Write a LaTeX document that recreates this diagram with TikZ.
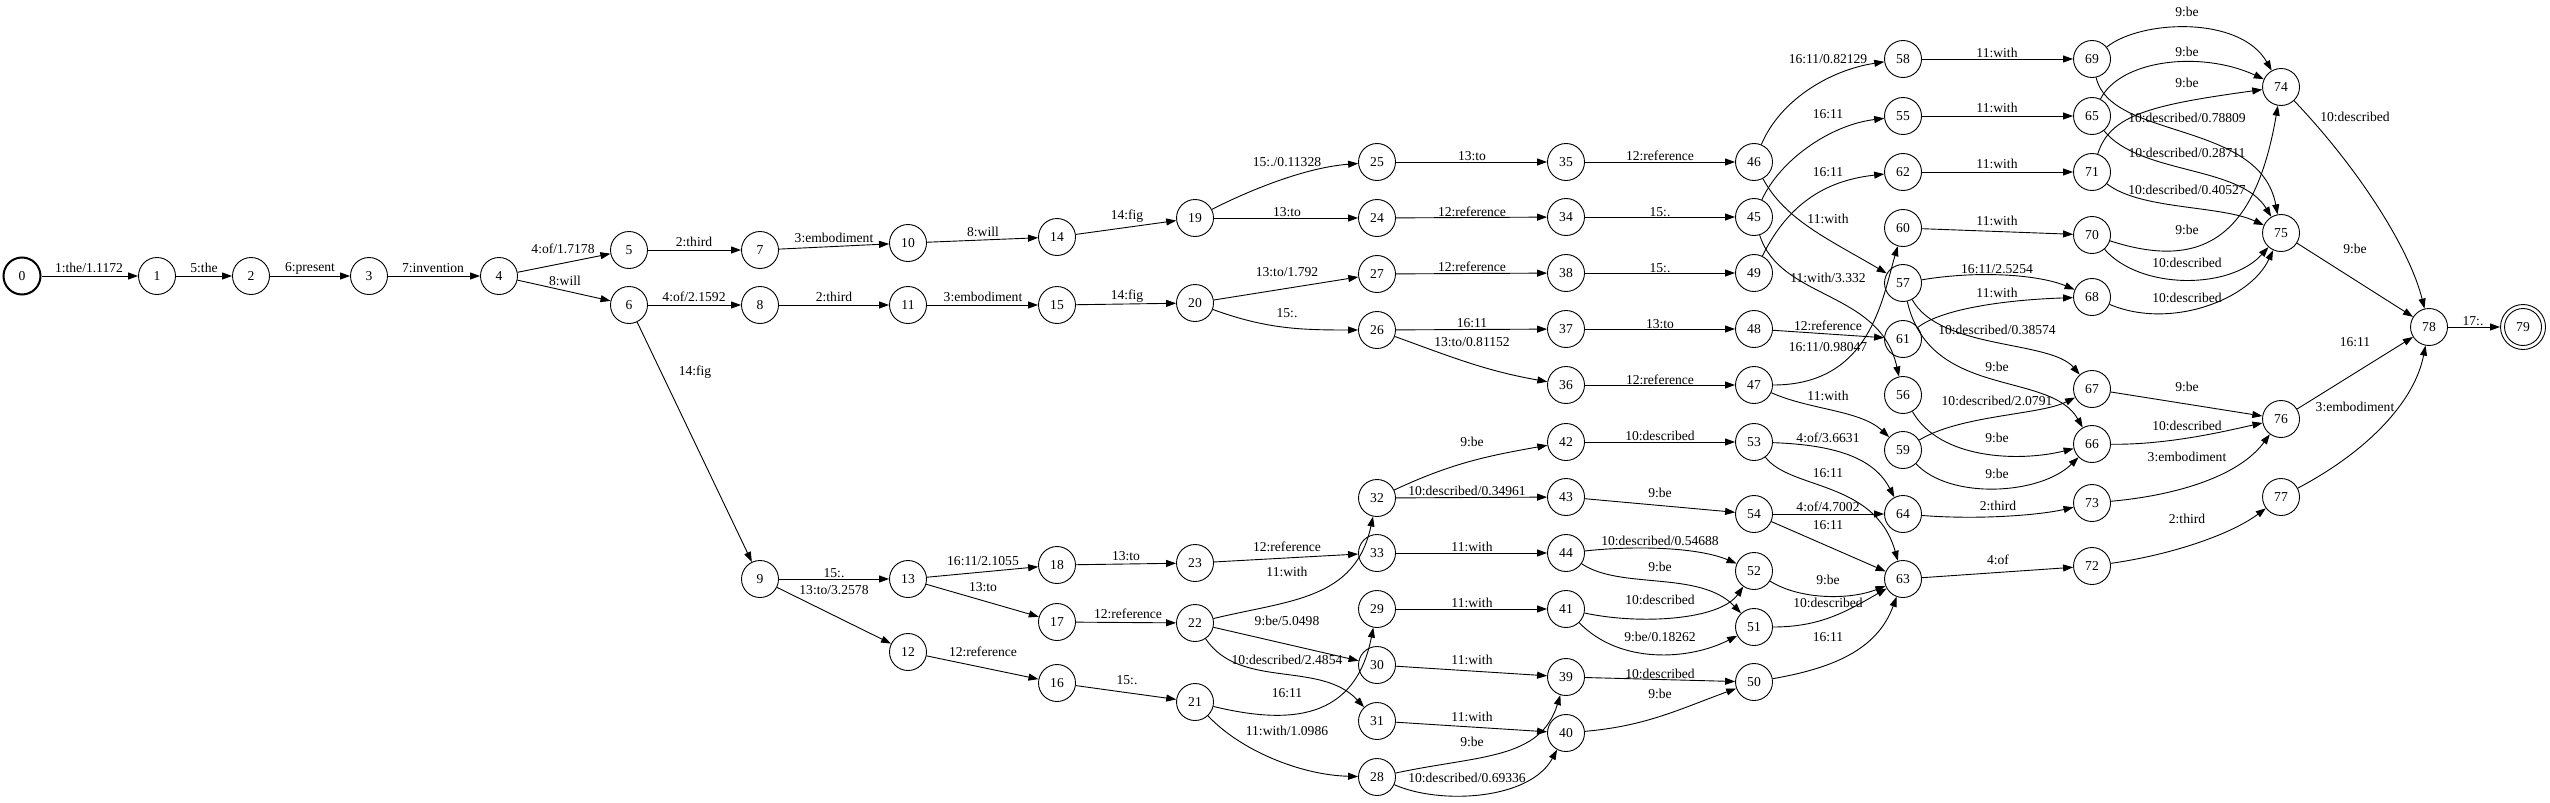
\documentclass[tikz,border=0pt]{standalone}
\usepackage{fontspec}
\setmainfont{Liberation Serif}
\usetikzlibrary{arrows.meta}
\newcommand\lfs{\fontsize{13.6bp}{16bp}\selectfont}
\begin{document}
\begin{tikzpicture}[x=1bp,y=-1bp,
  st/.style={circle,draw,minimum size=37bp,inner sep=0pt,line width=0.9bp,font=\lfs},
  e/.style={-{Triangle[length=10bp,width=7bp]},line width=0.9bp},
  lbl/.style={inner sep=0pt,font=\lfs}]
\useasboundingbox (0,0) rectangle (2550,803);
\node[st,line width=2bp] (n0) at (22,276) {0};
\node[st] (n1) at (157,276) {1};
\node[st] (n2) at (251,276) {2};
\node[st] (n3) at (369,276) {3};
\node[st] (n4) at (499,276) {4};
\node[st] (n5) at (629,250) {5};
\node[st] (n6) at (629,305) {6};
\node[st] (n7) at (760,250) {7};
\node[st] (n8) at (760,305) {8};
\node[st] (n9) at (760,579) {9};
\node[st] (n10) at (908,243) {10};
\node[st] (n11) at (908,305) {11};
\node[st] (n12) at (908,652) {12};
\node[st] (n13) at (908,579) {13};
\node[st] (n14) at (1057,237) {14};
\node[st] (n15) at (1057,305) {15};
\node[st] (n16) at (1057,683) {16};
\node[st] (n17) at (1057,622) {17};
\node[st] (n18) at (1057,565) {18};
\node[st] (n19) at (1195,218) {19};
\node[st] (n20) at (1195,303) {20};
\node[st] (n21) at (1195,702) {21};
\node[st] (n22) at (1195,623) {22};
\node[st] (n23) at (1195,563) {23};
\node[st] (n24) at (1377,218) {24};
\node[st] (n25) at (1377,162) {25};
\node[st] (n26) at (1377,330) {26};
\node[st] (n27) at (1377,274) {27};
\node[st] (n28) at (1377,777) {28};
\node[st] (n29) at (1377,609) {29};
\node[st] (n30) at (1377,665) {30};
\node[st] (n31) at (1377,721) {31};
\node[st] (n32) at (1377,498) {32};
\node[st] (n33) at (1377,553) {33};
\node[st] (n34) at (1566,217) {34};
\node[st] (n35) at (1566,162) {35};
\node[st] (n36) at (1566,385) {36};
\node[st] (n37) at (1566,329) {37};
\node[st] (n38) at (1566,273) {38};
\node[st] (n39) at (1566,677) {39};
\node[st] (n40) at (1566,733) {40};
\node[st] (n41) at (1566,609) {41};
\node[st] (n42) at (1566,442) {42};
\node[st] (n43) at (1566,497) {43};
\node[st] (n44) at (1566,553) {44};
\node[st] (n45) at (1754,217) {45};
\node[st] (n46) at (1754,162) {46};
\node[st] (n47) at (1754,385) {47};
\node[st] (n48) at (1754,329) {48};
\node[st] (n49) at (1754,273) {49};
\node[st] (n50) at (1754,682) {50};
\node[st] (n51) at (1754,627) {51};
\node[st] (n52) at (1754,571) {52};
\node[st] (n53) at (1754,442) {53};
\node[st] (n54) at (1754,514) {54};
\node[st] (n55) at (1903,116) {55};
\node[st] (n56) at (1903,395) {56};
\node[st] (n57) at (1903,283) {57};
\node[st] (n58) at (1903,59) {58};
\node[st] (n59) at (1903,450) {59};
\node[st] (n60) at (1903,228) {60};
\node[st] (n61) at (1903,339) {61};
\node[st] (n62) at (1903,172) {62};
\node[st] (n63) at (1903,579) {63};
\node[st] (n64) at (1903,514) {64};
\node[st] (n65) at (2092,116) {65};
\node[st] (n66) at (2092,444) {66};
\node[st] (n67) at (2092,389) {67};
\node[st] (n68) at (2092,297) {68};
\node[st] (n69) at (2092,59) {69};
\node[st] (n70) at (2092,235) {70};
\node[st] (n71) at (2092,172) {71};
\node[st] (n72) at (2092,566) {72};
\node[st] (n73) at (2092,503) {73};
\node[st] (n74) at (2281,87) {74};
\node[st] (n75) at (2281,233) {75};
\node[st] (n76) at (2281,419) {76};
\node[st] (n77) at (2281,497) {77};
\node[st] (n78) at (2429,327) {78};
\node[st,minimum size=45bp] (n79) at (2523,327) {79};
\draw[line width=0.9bp] (n79.center) circle (18.5bp);
% left
\draw[e] (n0) -- (n1) node[lbl] at (89,268) {1:the/1.1172};
\draw[e] (n1) -- (n2) node[lbl] at (204,268) {5:the};
\draw[e] (n2) -- (n3) node[lbl] at (310,268) {6:present};
\draw[e] (n3) -- (n4) node[lbl] at (433,268) {7:invention};
\draw[e] (n4) -- (n5) node[lbl] at (563,249) {4:of/1.7178};
\draw[e] (n4) -- (n6) node[lbl] at (565,281) {8:will};
\draw[e] (n5) -- (n7) node[lbl] at (694,242) {2:third};
\draw[e] (n6) -- (n8) node[lbl] at (694,297) {4:of/2.1592};
\draw[e] (n6) -- (n9) node[lbl] at (695,372) {14:fig};
\draw[e] (n7) -- (n10) node[lbl] at (834,238) {3:embodiment};
\draw[e] (n8) -- (n11) node[lbl] at (834,297) {2:third};
\draw[e] (n10) -- (n14) node[lbl] at (983,232) {8:will};
\draw[e] (n11) -- (n15) node[lbl] at (983,297) {3:embodiment};
\draw[e] (n14) -- (n19) node[lbl] at (1127,216) {14:fig};
\draw[e] (n15) -- (n20) node[lbl] at (1127,296) {14:fig};
\draw[e] (n9) -- (n13) node[lbl] at (834,573) {15:.};
\draw[e] (n9) -- (n12) node[lbl] at (834,590) {13:to/3.2578};
\draw[e] (n13) -- (n18) node[lbl] at (983,561) {16:11/2.1055};
\draw[e] (n13) -- (n17) node[lbl] at (983,587) {13:to};
\draw[e] (n12) -- (n16) node[lbl] at (983,652) {12:reference};
\draw[e] (n18) -- (n23) node[lbl] at (1126,556) {13:to};
\draw[e] (n17) -- (n22) node[lbl] at (1128,614) {12:reference};
\draw[e] (n16) -- (n21) node[lbl] at (1127,680) {15:.};
% middle
\draw[e] (n19) .. controls (1240,195) and (1300,168) .. (n25) node[lbl] at (1287,162) {15:./0.11328};
\draw[e] (n19) -- (n24) node[lbl] at (1287,212) {13:to};
\draw[e] (n20) -- (n27) node[lbl] at (1287,272) {13:to/1.792};
\draw[e] (n20) to[out=-20,in=180] (n26) node[lbl] at (1287,313) {15:.};
\draw[e] (n25) -- (n35) node[lbl] at (1472,156) {13:to};
\draw[e] (n24) -- (n34) node[lbl] at (1472,212) {12:reference};
\draw[e] (n27) -- (n38) node[lbl] at (1472,267) {12:reference};
\draw[e] (n26) -- (n37) node[lbl] at (1472,323) {16:11};
\draw[e] (n26) to[out=-20,in=170] (n36) node[lbl] at (1472,342) {13:to/0.81152};
\draw[e] (n23) -- (n33) node[lbl] at (1287,547) {12:reference};
\draw[e] (n22) .. controls (1290,600) and (1355,600) .. (n32) node[lbl] at (1287,572) {11:with};
\draw[e] (n22) -- (n30) node[lbl] at (1287,621) {9:be/5.0498};
\draw[e] (n22) .. controls (1240,690) and (1320,660) .. (n31) node[lbl] at (1287,660) {10:described/2.4854};
\draw[e] (n21) .. controls (1290,725) and (1355,720) .. (n29) node[lbl] at (1287,693) {16:11};
\draw[e] (n21) .. controls (1240,750) and (1300,775) .. (n28) node[lbl] at (1287,731) {11:with/1.0986};
\draw[e] (n32) to[out=25,in=190] (n42) node[lbl] at (1472,442) {9:be};
\draw[e] (n32) -- (n43) node[lbl] at (1467,491) {10:described/0.34961};
\draw[e] (n33) -- (n44) node[lbl] at (1472,547) {11:with};
\draw[e] (n29) -- (n41) node[lbl] at (1472,603) {11:with};
\draw[e] (n30) -- (n39) node[lbl] at (1472,660) {11:with};
\draw[e] (n31) -- (n40) node[lbl] at (1472,717) {11:with};
\draw[e] (n28) .. controls (1480,755) and (1540,760) .. (n39) node[lbl] at (1472,742) {9:be};
\draw[e] (n28) .. controls (1440,805) and (1530,800) .. (n40) node[lbl] at (1467,778) {10:described/0.69336};
% next
\draw[e] (n38) -- (n49) node[lbl] at (1660,268) {15:.};
\draw[e] (n37) -- (n48) node[lbl] at (1660,324) {13:to};
\draw[e] (n36) -- (n47) node[lbl] at (1660,380) {12:reference};
\draw[e] (n42) -- (n53) node[lbl] at (1660,436) {10:described};
\draw[e] (n43) -- (n54) node[lbl] at (1660,493) {9:be};
\draw[e] (n35) -- (n46) node[lbl] at (1660,156) {12:reference};
\draw[e] (n34) -- (n45) node[lbl] at (1660,212) {15:.};
\draw[e] (n44) .. controls (1640,545) and (1700,548) .. (n52) node[lbl] at (1660,541) {10:described/0.54688};
\draw[e] (n44) .. controls (1620,590) and (1700,570) .. (n51) node[lbl] at (1660,567) {9:be};
\draw[e] (n41) .. controls (1640,625) and (1720,620) .. (n52) node[lbl] at (1660,600) {10:described};
\draw[e] (n41) .. controls (1620,665) and (1690,660) .. (n51) node[lbl] at (1660,637) {9:be/0.18262};
\draw[e] (n39) -- (n50) node[lbl] at (1660,674) {10:described};
\draw[e] (n40) to[out=5,in=-160] (n50) node[lbl] at (1660,694) {9:be};
% next
\draw[e] (n46) .. controls (1780,100) and (1830,70) .. (n58) node[lbl] at (1828,59) {16:11/0.82129};
\draw[e] (n45) .. controls (1780,160) and (1830,125) .. (n55) node[lbl] at (1828,114) {16:11};
\draw[e] (n49) .. controls (1790,200) and (1830,180) .. (n62) node[lbl] at (1828,172) {16:11};
\draw[e] (n46) .. controls (1785,220) and (1830,240) .. (n57) node[lbl] at (1828,219) {11:with};
\draw[e] (n45) .. controls (1780,300) and (1880,290) .. (n56) node[lbl] at (1828,278) {11:with/3.332};
\draw[e] (n48) -- (n61) node[lbl] at (1828,326) {12:reference};
\draw[e] (n47) .. controls (1870,385) and (1882,300) .. (n60) node[lbl] at (1828,347) {16:11/0.98047};
\draw[e] (n47) .. controls (1810,410) and (1860,410) .. (n59) node[lbl] at (1828,396) {11:with};
\draw[e] (n53) .. controls (1840,445) and (1875,460) .. (n64) node[lbl] at (1828,438) {4:of/3.6631};
\draw[e] (n53) .. controls (1790,490) and (1875,480) .. (n63) node[lbl] at (1828,473) {16:11};
\draw[e] (n54) -- (n64) node[lbl] at (1828,507) {4:of/4.7002};
\draw[e] (n54) -- (n63) node[lbl] at (1828,525) {16:11};
\draw[e] (n52) .. controls (1800,600) and (1850,600) .. (n63) node[lbl] at (1828,580) {9:be};
\draw[e] (n51) to[out=0,in=-150] (n63) node[lbl] at (1828,603) {10:described};
\draw[e] (n50) to[out=10,in=-110] (n63) node[lbl] at (1828,637) {16:11};
% next
\draw[e] (n58) -- (n69) node[lbl] at (1997,53) {11:with};
\draw[e] (n55) -- (n65) node[lbl] at (1997,108) {11:with};
\draw[e] (n62) -- (n71) node[lbl] at (1997,164) {11:with};
\draw[e] (n60) -- (n70) node[lbl] at (1997,221) {11:with};
\draw[e] (n57) .. controls (1980,270) and (2040,275) .. (n68) node[lbl] at (1997,269) {16:11/2.5254};
\draw[e] (n61) .. controls (1940,310) and (2000,300) .. (n68) node[lbl] at (1997,293) {11:with};
\draw[e] (n57) .. controls (1940,350) and (2050,340) .. (n67) node[lbl] at (1997,330) {10:described/0.38574};
\draw[e] (n57) .. controls (1930,400) and (2050,370) .. (n66) node[lbl] at (1997,367) {9:be};
\draw[e] (n59) .. controls (1960,415) and (2040,415) .. (n67) node[lbl] at (1997,401) {10:described/2.0791};
\draw[e] (n56) .. controls (1940,460) and (2020,462) .. (n66) node[lbl] at (1997,438) {9:be};
\draw[e] (n59) .. controls (1950,500) and (2040,495) .. (n66) node[lbl] at (1997,474) {9:be};
\draw[e] (n64) .. controls (1980,520) and (2040,515) .. (n73) node[lbl] at (1998,506) {2:third};
\draw[e] (n63) -- (n72) node[lbl] at (1998,560) {4:of};
% next
\draw[e] (n69) .. controls (2140,20) and (2240,15) .. (n74) node[lbl] at (2187,12) {9:be};
\draw[e] (n65) .. controls (2120,60) and (2200,50) .. (n74) node[lbl] at (2187,52) {9:be};
\draw[e] (n71) .. controls (2110,115) and (2150,105) .. (n74) node[lbl] at (2187,83) {9:be};
\draw[e] (n69) .. controls (2110,140) and (2260,120) .. (n75) node[lbl] at (2187,118) {10:described/0.78809};
\draw[e] (n65) .. controls (2140,175) and (2240,165) .. (n75) node[lbl] at (2187,153) {10:described/0.28711};
\draw[e] (n71) .. controls (2140,210) and (2220,205) .. (n75) node[lbl] at (2187,190) {10:described/0.40527};
\draw[e] (n70) .. controls (2200,270) and (2255,240) .. (n74) node[lbl] at (2187,230) {9:be};
\draw[e] (n70) .. controls (2140,290) and (2230,290) .. (n75) node[lbl] at (2187,263) {10:described};
\draw[e] (n68) .. controls (2170,330) and (2250,300) .. (n75) node[lbl] at (2187,298) {10:described};
\draw[e] (n67) -- (n76) node[lbl] at (2187,387) {9:be};
\draw[e] (n66) .. controls (2170,445) and (2230,430) .. (n76) node[lbl] at (2187,426) {10:described};
\draw[e] (n73) .. controls (2180,495) and (2240,475) .. (n76) node[lbl] at (2187,457) {3:embodiment};
\draw[e] (n72) .. controls (2170,555) and (2230,535) .. (n77) node[lbl] at (2187,519) {2:third};
% final
\draw[e] (n74) .. controls (2360,170) and (2410,250) .. (n78) node[lbl] at (2355,117) {10:described};
\draw[e] (n75) -- (n78) node[lbl] at (2355,249) {9:be};
\draw[e] (n76) -- (n78) node[lbl] at (2355,342) {16:11};
\draw[e] (n77) .. controls (2370,450) and (2415,400) .. (n78) node[lbl] at (2355,407) {3:embodiment};
\draw[e] (n78) -- (n79) node[lbl] at (2473,321) {17:.};
\end{tikzpicture}
\end{document}
